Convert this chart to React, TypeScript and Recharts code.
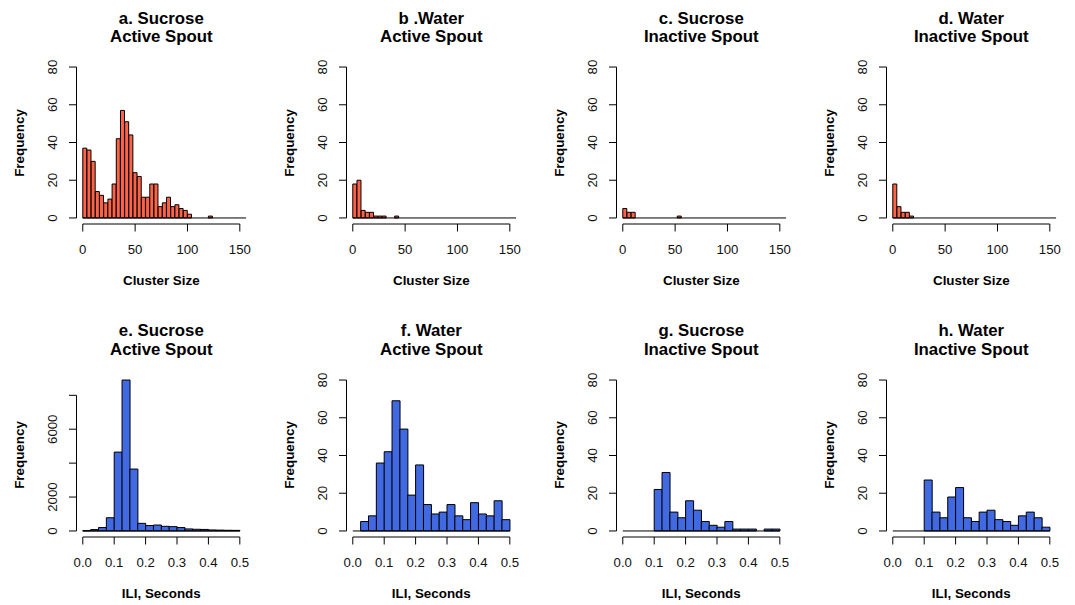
import React from "react";
import { BarChart, Bar, XAxis, YAxis, ReferenceLine } from "recharts";

// cluster size histograms: bins of 4 starting at 0
const clusterStart = 0;
const clusterBin = 4;
const sucroseActiveSize = [37, 36, 30, 14, 12, 8, 10, 18, 42, 57, 51, 44, 24, 22, 11, 11, 18, 18, 6, 8, 11, 6, 7, 5, 4, 2, 0, 0, 0, 0, 1, 0, 0, 0, 0, 0, 0, 0, 0];
const waterActiveSize = [18, 20, 4, 3, 3, 1, 1, 1, 0, 0, 1, 0, 0, 0, 0, 0, 0, 0, 0, 0, 0, 0, 0, 0, 0, 0, 0, 0, 0, 0, 0, 0, 0, 0, 0, 0, 0, 0, 0];
const sucroseInactiveSize = [5, 3, 3, 0, 0, 0, 0, 0, 0, 0, 0, 0, 0, 1, 0, 0, 0, 0, 0, 0, 0, 0, 0, 0, 0, 0, 0, 0, 0, 0, 0, 0, 0, 0, 0, 0, 0, 0, 0];
const waterInactiveSize = [18, 6, 3, 3, 1, 0, 0, 0, 0, 0, 0, 0, 0, 0, 0, 0, 0, 0, 0, 0, 0, 0, 0, 0, 0, 0, 0, 0, 0, 0, 0, 0, 0, 0, 0, 0, 0, 0, 0];

// inter-lick interval histograms: bins of 0.025 s starting at 0
const iliStart = 0;
const iliBin = 0.025;
const sucroseActiveIli = [20, 80, 200, 780, 4650, 8900, 3650, 450, 320, 350, 275, 255, 200, 120, 100, 90, 60, 50, 40, 35];
const waterActiveIli = [0, 5, 8, 36, 42, 69, 54, 19, 35, 14, 9, 10, 14, 8, 6, 15, 9, 8, 16, 6];
const sucroseInactiveIli = [0, 0, 0, 0, 22, 31, 10, 7, 16, 11, 5, 3, 2, 5, 1, 1, 1, 0, 1, 1];
const waterInactiveIli = [0, 0, 0, 0, 27, 10, 7, 18, 23, 7, 5, 10, 11, 6, 5, 3, 8, 10, 7, 2];

const clusterTicks = [0, 50, 100, 150];
const iliTicks = [0, 0.1, 0.2, 0.3, 0.4, 0.5];
const freqTicks = [0, 20, 40, 60, 80];
const bigFreqTicks = [0, 2000, 4000, 6000, 8000];
const bigFreqLabels = [0, 2000, 6000];

const RED = "#FF6347";
const BLUE = "#4169E1";
const FONT = '"Liberation Sans", Arial, Helvetica, sans-serif';
const TICK_FONT = 13.2;

const COL_W = 270;
const ROW_H = 312.6;
const CHART_H = 302;
const PLOT_LEFT = 76.5;
const PLOT_TOP = 61;
const PLOT_W = 169.6;
const PLOT_H = 163;
const Y_AXIS_W = 60;
const X_AXIS_H = 30;

interface PanelProps {
  col: number;
  row: number;
  title: [string, string];
  counts: number[];
  start: number;
  bin: number;
  xlim: [number, number];
  xTicks: number[];
  yTicks: number[];
  yLabels?: number[];
  ylimTop?: number;
  fill: string;
  xLabel: string;
  fmt: (v: number) => string;
}

function Panel({ col, row, title, counts, start, bin, xlim, xTicks, yTicks, yLabels, ylimTop, fill, xLabel, fmt }: PanelProps) {
  const data = counts.map((count, i) => ({ mid: start + (i + 0.5) * bin, count }));
  const yTop = ylimTop ?? Math.max(...counts);
  const yPad = yTop * 0.04;
  const yDomain: [number, number] = [-yPad, yTop + yPad];
  const xPad = (xlim[1] - xlim[0]) * 0.04;
  const xDomain: [number, number] = [xlim[0] - xPad, xlim[1] + xPad];
  const binEnd = start + counts.length * bin;
  const shown = yLabels ?? yTicks;
  const cx = PLOT_LEFT + PLOT_W / 2;

  const YTick = (props: any) => {
    const { x, y, payload } = props;
    if (!shown.includes(payload.value)) return <g />;
    return (
      <text x={x} y={y} transform={`rotate(-90 ${x} ${y})`} textAnchor="middle" fontSize={TICK_FONT} fontFamily={FONT} fill="#111">
        {payload.value}
      </text>
    );
  };

  const line: React.CSSProperties = {
    position: "absolute",
    left: cx,
    transform: "translate(-50%, -50%)",
    whiteSpace: "nowrap",
    fontFamily: FONT,
    fontWeight: "bold",
    lineHeight: 1,
    color: "#000",
  };

  return (
    <div style={{ position: "absolute", left: col * COL_W, top: row * ROW_H, width: COL_W, height: CHART_H }}>
      <BarChart
        width={COL_W}
        height={CHART_H}
        data={data}
        barCategoryGap={0}
        barGap={0}
        margin={{ top: PLOT_TOP, left: PLOT_LEFT - Y_AXIS_W, right: COL_W - PLOT_LEFT - PLOT_W, bottom: CHART_H - PLOT_TOP - PLOT_H - X_AXIS_H }}
      >
        <XAxis
          type="number"
          dataKey="mid"
          domain={xDomain}
          allowDataOverflow
          ticks={xTicks}
          interval={0}
          tickFormatter={fmt}
          axisLine={false}
          tickLine={{ stroke: "#000" }}
          tickSize={7.5}
          tickMargin={13.5}
          height={X_AXIS_H}
          tick={{ fill: "#111", fontSize: TICK_FONT, fontFamily: FONT }}
        />
        <YAxis
          type="number"
          domain={yDomain}
          allowDataOverflow
          ticks={yTicks}
          interval={0}
          axisLine={false}
          tickLine={{ stroke: "#000" }}
          tickSize={7.5}
          tickMargin={12}
          width={Y_AXIS_W}
          tick={YTick}
        />
        <Bar dataKey="count" fill={fill} stroke="#000" strokeWidth={1} isAnimationActive={false} />
        <ReferenceLine segment={[{ x: start, y: 0 }, { x: binEnd, y: 0 }]} stroke="#000" ifOverflow="visible" />
        <ReferenceLine segment={[{ x: xDomain[0], y: yTicks[0] }, { x: xDomain[0], y: yTicks[yTicks.length - 1] }]} stroke="#000" ifOverflow="visible" />
        <ReferenceLine segment={[{ x: xTicks[0], y: yDomain[0] }, { x: xTicks[xTicks.length - 1], y: yDomain[0] }]} stroke="#000" ifOverflow="visible" />
      </BarChart>
      <div style={{ ...line, top: 18.8, fontSize: 16.8 }}>{title[0]}</div>
      <div style={{ ...line, top: 37, fontSize: 16.8 }}>{title[1]}</div>
      <div style={{ ...line, top: 281, fontSize: 13.4 }}>{xLabel}</div>
      <div style={{ ...line, left: 20, top: PLOT_TOP + PLOT_H / 2, fontSize: 13.4, transform: "translate(-50%, -50%) rotate(-90deg)" }}>
        Frequency
      </div>
    </div>
  );
}

const intFmt = (v: number) => String(v);
const decFmt = (v: number) => v.toFixed(1);

export default function App() {
  const top = { start: clusterStart, bin: clusterBin, xlim: [0, 150] as [number, number], xTicks: clusterTicks, yTicks: freqTicks, ylimTop: 80, fill: RED, xLabel: "Cluster Size", fmt: intFmt, row: 0 };
  const bottom = { start: iliStart, bin: iliBin, xlim: [0, 0.5] as [number, number], xTicks: iliTicks, fill: BLUE, xLabel: "ILI, Seconds", fmt: decFmt, row: 1 };
  return (
    <div style={{ position: "absolute", left: 0, top: 0, width: 1075, height: 605, overflow: "hidden", background: "#fff" }}>
      <Panel {...top} col={0} title={["a. Sucrose", "Active Spout"]} counts={sucroseActiveSize} />
      <Panel {...top} col={1} title={["b .Water", "Active Spout"]} counts={waterActiveSize} />
      <Panel {...top} col={2} title={["c. Sucrose", "Inactive Spout"]} counts={sucroseInactiveSize} />
      <Panel {...top} col={3} title={["d. Water", "Inactive Spout"]} counts={waterInactiveSize} />
      <Panel {...bottom} col={0} title={["e. Sucrose", "Active Spout"]} counts={sucroseActiveIli} yTicks={bigFreqTicks} yLabels={bigFreqLabels} />
      <Panel {...bottom} col={1} title={["f. Water", "Active Spout"]} counts={waterActiveIli} yTicks={freqTicks} ylimTop={80} />
      <Panel {...bottom} col={2} title={["g. Sucrose", "Inactive Spout"]} counts={sucroseInactiveIli} yTicks={freqTicks} ylimTop={80} />
      <Panel {...bottom} col={3} title={["h. Water", "Inactive Spout"]} counts={waterInactiveIli} yTicks={freqTicks} ylimTop={80} />
    </div>
  );
}
